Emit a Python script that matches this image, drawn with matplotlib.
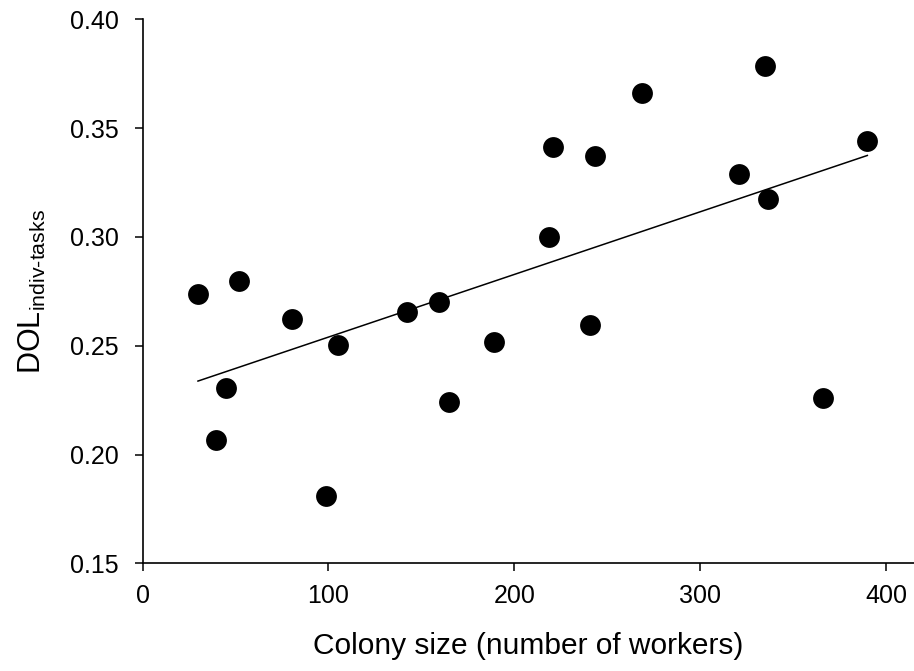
import numpy as np
import matplotlib
matplotlib.use("Agg")
import matplotlib.pyplot as plt

plt.rcParams['font.family'] = ['Liberation Sans', 'DejaVu Sans']
plt.rcParams['mathtext.fontset'] = 'custom'
plt.rcParams['mathtext.rm'] = 'Liberation Sans'

# colony size vs DOL (individual tasks)
colony_size = [29.8, 39.6, 44.7, 51.7, 80.6, 98.5, 105.3, 142.5, 159.6, 164.6,
               188.8, 218.8, 220.6, 240.7, 243.6, 268.7, 320.7, 334.7, 336.6,
               366.0, 389.9]
dol = [0.2736, 0.2067, 0.2304, 0.2799, 0.2621, 0.1809, 0.2503, 0.2653, 0.2699,
       0.2241, 0.2518, 0.2998, 0.3412, 0.2595, 0.3372, 0.3663, 0.3288, 0.3785,
       0.3173, 0.2258, 0.3442]

x = np.array(colony_size)
y = np.array(dol)
slope, intercept = np.polyfit(x, y, 1)
xl = np.array([x.min(), x.max()])

fig = plt.figure(figsize=(9.14, 6.71), dpi=100)
ax = fig.add_axes([0.156, 0.1605, 0.844, 0.8107])

ax.plot(xl, intercept + slope * xl, color='black', lw=1.1, zorder=2)
ax.scatter(x, y, s=225, color='black', zorder=3, linewidths=0)

ax.set_xlim(0, 415)
ax.set_ylim(0.15, 0.40)
ax.set_xticks([0, 100, 200, 300, 400])
ax.set_yticks([0.15, 0.20, 0.25, 0.30, 0.35, 0.40])
ax.set_yticklabels(['%.2f' % v for v in [0.15, 0.20, 0.25, 0.30, 0.35, 0.40]])

ax.spines['top'].set_visible(False)
ax.spines['right'].set_visible(False)
for s in ['left', 'bottom']:
    ax.spines[s].set_linewidth(1.2)
ax.tick_params(direction='out', length=6, width=1.1, labelsize=18)
ax.tick_params(axis='y', pad=11)
ax.tick_params(axis='x', pad=9)

ax.set_xlabel('Colony size (number of workers)', fontsize=21.5, labelpad=17)
ax.set_ylabel(r'DOL$_{\mathregular{indiv\text{-}tasks}}$', fontsize=22, labelpad=16)

plt.savefig('out.png', dpi=100)
